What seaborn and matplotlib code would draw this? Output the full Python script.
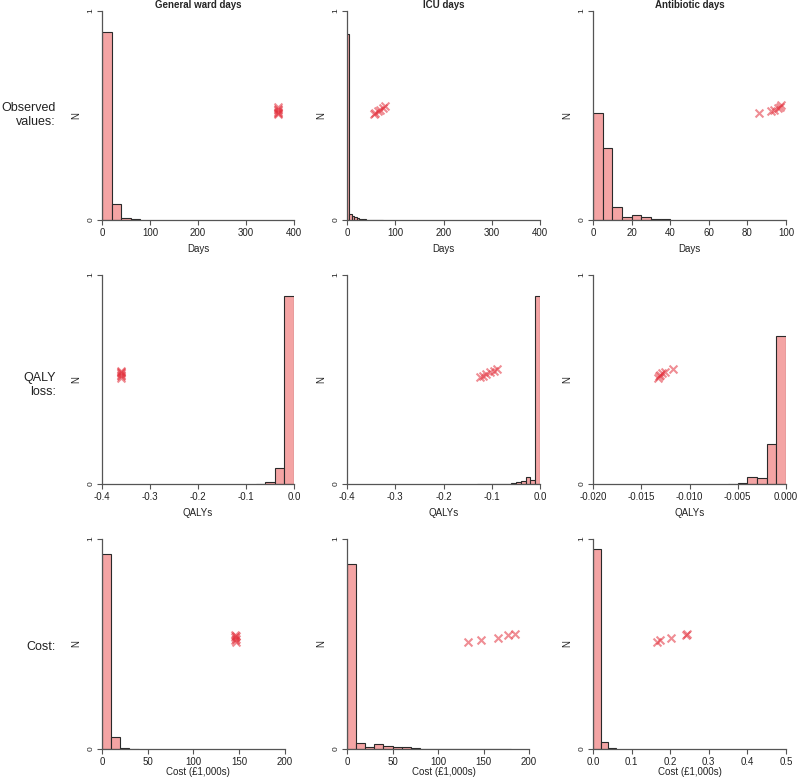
import numpy as np
import seaborn as sns
import matplotlib.pyplot as plt

# histogram bins (edges) and bar heights (proportion of patients)
ward_days_edges = [0, 20, 40, 60, 80]
ward_days_props = [0.898, 0.078, 0.0095, 0.003]
icu_days_edges = [0, 5, 10, 15, 20, 25, 30, 35, 40, 45, 50, 55, 60, 65, 70, 75]
icu_days_props = [0.89, 0.03, 0.02, 0.012, 0.008, 0.006, 0.004, 0.003, 0.002, 0.002, 0.0, 0.0, 0.0, 0.0, 0.002]
abx_days_edges = [0, 5, 10, 15, 20, 25, 30, 35, 40]
abx_days_props = [0.511, 0.345, 0.06, 0.014, 0.025, 0.014, 0.003, 0.003]

ward_qaly_edges = [-0.08, -0.06, -0.04, -0.02, 0.0]
ward_qaly_props = [0.002, 0.01, 0.075, 0.9]
icu_qaly_edges = [-0.13, -0.12, -0.11, -0.10, -0.09, -0.08, -0.07, -0.06, -0.05, -0.04, -0.03, -0.02, -0.01, 0.0]
icu_qaly_props = [0.002, 0.002, 0.0, 0.0, 0.0, 0.002, 0.002, 0.004, 0.008, 0.012, 0.032, 0.02, 0.9]
abx_qaly_edges = [-0.006, -0.005, -0.004, -0.003, -0.002, -0.001, 0.0]
abx_qaly_props = [0.002, 0.004, 0.035, 0.03, 0.19, 0.71]

ward_cost_edges = [0, 10, 20, 30, 40]
ward_cost_props = [0.929, 0.056, 0.003, 0.002]
icu_cost_edges = [0, 10, 20, 30, 40, 50, 60, 70, 80, 90, 100, 110, 120, 130, 140, 150, 160, 170, 180]
icu_cost_props = [0.88, 0.027, 0.011, 0.024, 0.014, 0.008, 0.008, 0.003, 0.0, 0.0, 0.0, 0.002, 0.0, 0.0, 0.0, 0.0, 0.0, 0.002]
abx_cost_edges = [0.0, 0.02, 0.04, 0.06]
abx_cost_props = [0.952, 0.035, 0.003]

# observed values (red crosses)
ward_days_obs_x = [366, 367, 366, 367, 366, 367]
ward_days_obs_y = [0.505, 0.512, 0.519, 0.526, 0.533, 0.54]
icu_days_obs_x = [55, 59, 64, 69, 74, 78]
icu_days_obs_y = [0.505, 0.512, 0.52, 0.528, 0.537, 0.545]
abx_days_obs_x = [86, 92, 94, 96, 97, 97.5]
abx_days_obs_y = [0.51, 0.52, 0.527, 0.535, 0.543, 0.548]

ward_qaly_obs_x = [-0.361, -0.360, -0.361, -0.360, -0.361, -0.360]
ward_qaly_obs_y = [0.508, 0.515, 0.522, 0.529, 0.536, 0.542]
icu_qaly_obs_x = [-0.124, -0.118, -0.112, -0.104, -0.096, -0.089]
icu_qaly_obs_y = [0.513, 0.519, 0.526, 0.534, 0.542, 0.549]
abx_qaly_obs_x = [-0.0133, -0.0132, -0.0131, -0.0128, -0.0125, -0.0117]
abx_qaly_obs_y = [0.505, 0.515, 0.522, 0.53, 0.538, 0.55]

ward_cost_obs_x = [147, 146, 147, 146, 147, 146]
ward_cost_obs_y = [0.51, 0.517, 0.524, 0.531, 0.538, 0.545]
icu_cost_obs_x = [133, 147, 166, 177, 185]
icu_cost_obs_y = [0.511, 0.519, 0.53, 0.543, 0.548]
abx_cost_obs_x = [0.167, 0.173, 0.203, 0.241, 0.243]
abx_cost_obs_y = [0.511, 0.519, 0.53, 0.543, 0.547]

col_titles = ['General ward days', 'ICU days', 'Antibiotic days']
row_labels = ['Observed\nvalues:', 'QALY\nloss:', 'Cost:']
row_xlabels = ['Days', 'QALYs', 'Cost (£1,000s)']

BAR_COLOR = '#f4a4a4'
EDGE_COLOR = '#2a2a2a'
MARK_COLOR = '#e3303c'
AXIS_COLOR = '#555555'

sns.set_style('white')
plt.rcParams['font.family'] = ['Liberation Sans', 'DejaVu Sans']

fig = plt.figure(figsize=(7.99, 7.82), dpi=100)
W, H = 799, 782

col_left = [102, 347, 593]
col_width = [192, 193, 193]
row_zero = [220, 484, 749]
row_height = [209, 209, 210]
row_labelpad = [4.5, 4.5, 0.5]
row_label_y = [115, 385, 647]

panels = [
    [
        dict(edges=ward_days_edges, props=ward_days_props, ox=ward_days_obs_x, oy=ward_days_obs_y,
             xlim=(0, 400), xticks=[0, 100, 200, 300, 400], fmt='{:.0f}'),
        dict(edges=icu_days_edges, props=icu_days_props, ox=icu_days_obs_x, oy=icu_days_obs_y,
             xlim=(0, 400), xticks=[0, 100, 200, 300, 400], fmt='{:.0f}'),
        dict(edges=abx_days_edges, props=abx_days_props, ox=abx_days_obs_x, oy=abx_days_obs_y,
             xlim=(0, 100), xticks=[0, 20, 40, 60, 80, 100], fmt='{:.0f}'),
    ],
    [
        dict(edges=ward_qaly_edges, props=ward_qaly_props, ox=ward_qaly_obs_x, oy=ward_qaly_obs_y,
             xlim=(-0.4, 0), xticks=[-0.4, -0.3, -0.2, -0.1, 0.0], fmt='{:.1f}'),
        dict(edges=icu_qaly_edges, props=icu_qaly_props, ox=icu_qaly_obs_x, oy=icu_qaly_obs_y,
             xlim=(-0.4, 0), xticks=[-0.4, -0.3, -0.2, -0.1, 0.0], fmt='{:.1f}'),
        dict(edges=abx_qaly_edges, props=abx_qaly_props, ox=abx_qaly_obs_x, oy=abx_qaly_obs_y,
             xlim=(-0.02, 0), xticks=[-0.02, -0.015, -0.01, -0.005, 0.0], fmt='{:.3f}'),
    ],
    [
        dict(edges=ward_cost_edges, props=ward_cost_props, ox=ward_cost_obs_x, oy=ward_cost_obs_y,
             xlim=(0, 210), xticks=[0, 50, 100, 150, 200], fmt='{:.0f}'),
        dict(edges=icu_cost_edges, props=icu_cost_props, ox=icu_cost_obs_x, oy=icu_cost_obs_y,
             xlim=(0, 212), xticks=[0, 50, 100, 150, 200], fmt='{:.0f}'),
        dict(edges=abx_cost_edges, props=abx_cost_props, ox=abx_cost_obs_x, oy=abx_cost_obs_y,
             xlim=(0, 0.5), xticks=[0.0, 0.1, 0.2, 0.3, 0.4, 0.5], fmt='{:.1f}'),
    ],
]


def draw_panel(ax, p: dict, xlabel: str, labelpad: float):
    edges = np.asarray(p['edges'], dtype=float)
    centers = (edges[:-1] + edges[1:]) / 2
    sns.histplot(x=centers, weights=p['props'], bins=edges.tolist(), stat='count',
                 color=BAR_COLOR, edgecolor=EDGE_COLOR, linewidth=0.8, alpha=1, ax=ax)
    sns.scatterplot(x=p['ox'], y=p['oy'], marker='x', color=MARK_COLOR,
                    s=32, linewidth=1.5, alpha=0.55, ax=ax)

    ax.set_xlim(*p['xlim'])
    ax.set_ylim(0, 1)
    ax.set_xticks(p['xticks'])
    ax.set_xticklabels([p['fmt'].format(t) for t in p['xticks']], fontsize=7, color='#222222')
    ax.set_yticks([0, 1])
    ax.set_yticklabels(['0', '1'], fontsize=6, rotation=90, va='center', color='#222222')
    ax.tick_params(axis='both', direction='out', length=3.6, width=0.8,
                   color=AXIS_COLOR, pad=2, left=True, bottom=True)
    for side in ['top', 'right']:
        ax.spines[side].set_visible(False)
    for side in ['left', 'bottom']:
        ax.spines[side].set_color(AXIS_COLOR)
        ax.spines[side].set_linewidth(0.9)
    ax.spines['bottom'].set_bounds(p['xticks'][0], p['xticks'][-1])
    ax.spines['left'].set_bounds(0, 1)
    ax.set_xlabel(xlabel, fontsize=7, labelpad=labelpad, color='#222222')
    ax.set_ylabel('N', fontsize=7, labelpad=4, color='#222222')


for r in range(3):
    for c in range(3):
        rect = [col_left[c] / W, 1 - row_zero[r] / H, col_width[c] / W, row_height[r] / H]
        ax = fig.add_axes(rect)
        draw_panel(ax, panels[r][c], row_xlabels[r], row_labelpad[r])
        if r == 0:
            ax.set_title(col_titles[c], fontsize=7, fontweight='bold', pad=2.5)
    fig.text(56 / W, 1 - row_label_y[r] / H, row_labels[r], ha='right', va='center',
             multialignment='right', fontsize=9, linespacing=1.2, color='#222222')

fig.savefig('out.png', dpi=100)
